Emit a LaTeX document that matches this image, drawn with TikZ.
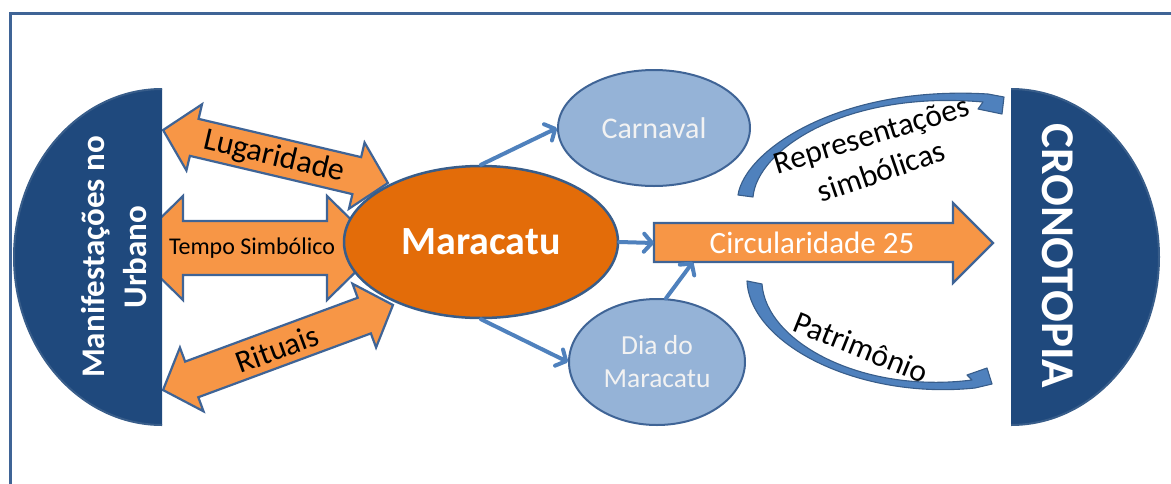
\documentclass[tikz,border=0pt]{standalone}
\usepackage{fontspec}
\setmainfont{Carlito}
\usetikzlibrary{arrows.meta,shapes.geometric}
\definecolor{dblue}{HTML}{1F497D}
\definecolor{bord}{HTML}{385D8A}
\definecolor{orng}{HTML}{F79646}
\definecolor{dorng}{HTML}{E36C09}
\definecolor{lblue}{HTML}{95B3D7}
\definecolor{mblue}{HTML}{4F81BD}
\definecolor{framec}{HTML}{3F6496}
\begin{document}
\begin{tikzpicture}[x=1pt,y=-1pt,
  dblarr/.style={fill=orng, draw=framec, line width=2.2pt, line join=miter},
  halfdisc/.style={ellipse, fill=dblue, draw=bord, line width=2pt, inner sep=0pt, minimum width=296, minimum height=336},
  bubble/.style={ellipse, fill=lblue, draw=framec, line width=2pt, inner sep=0pt, text=white!95!black, align=center},
  thinarr/.style={draw=mblue, line width=4pt, line cap=round, -{Straight Barb[length=8pt,width=18pt,line cap=round,line join=round]}},
  curvarr/.style={fill=mblue, draw=bord, line width=1.1pt, line join=round},
  lbl/.style={text=black, inner sep=0pt, font=\fontsize{31.5}{36}\selectfont},
  whitebold/.style={text=white, inner sep=0pt, font=\bfseries, align=center}
]
\useasboundingbox (0,0) rectangle (1171,483);
% frame
\draw[framec, line width=3pt] (10,500) -- (10,13) -- (1190,13);

% double arrows
\begin{scope}[shift={(255,248)}]
\draw[dblarr] (-125,0) -- (-72,-52) -- (-72,-27) -- (72,-27) -- (72,-52) -- (125,0)
  -- (72,52) -- (72,27) -- (-72,27) -- (-72,52) -- cycle;
\end{scope}
\begin{scope}[shift={(275.5,156.5)}, rotate=-13.25]
\draw[dblarr] (-115.5,0) -- (-83.5,-34) -- (-83.5,-19) -- (83.5,-19) -- (83.5,-34) -- (115.5,0)
  -- (83.5,34) -- (83.5,19) -- (-83.5,19) -- (-83.5,34) -- cycle;
\end{scope}
\begin{scope}[shift={(278,347.5)}, rotate=20.3]
\draw[dblarr] (-122.6,0) -- (-92,-34) -- (-92,-19) -- (92,-19) -- (92,-34) -- (122.6,0)
  -- (92,34) -- (92,19) -- (-92,19) -- (-92,34) -- cycle;
\end{scope}

% half discs
\begin{scope}
\clip (0,60) rectangle (162,450);
\node[halfdisc] (manif) at (162,257) {};
\end{scope}
\begin{scope}
\clip (1011,60) rectangle (1171,450);
\node[halfdisc] (crono) at (1011,257) {};
\end{scope}

% central ellipse
\node[ellipse, fill=dorng, draw=bord, line width=2.5pt, inner sep=0pt, minimum width=274, minimum height=152,
  text=white, font=\bfseries\fontsize{40}{46}\selectfont] (mar) at (481,242) {Maracatu};

% bubbles
\node[bubble, minimum width=192, minimum height=116, font=\fontsize{30}{36}\selectfont] (carn) at (654,128) {Carnaval};
\node[bubble, minimum width=176, minimum height=126, font=\fontsize{27.5}{33}\selectfont] (dia) at (657,362) {Dia do\\Maracatu};

% Circularidade arrow
\draw[fill=orng, draw=framec, line width=2.2pt, line join=miter]
  (654,223) -- (953,223) -- (953,203) -- (993,243) -- (953,283) -- (953,262) -- (654,262) -- cycle;
\coordinate (circW) at (654,243);
\coordinate (circS) at (693,262);
\node[text=white, inner sep=0pt, font=\fontsize{31}{36}\selectfont] (circ) at (812,243) {Circularidade 25};

% thin arrows
\draw[thinarr] (mar.north) -- (carn.west);
\draw[thinarr] (mar.south) -- (dia.west);
\draw[thinarr] (mar.east) -- (circW);
\draw[thinarr] (dia.82) -- (circS);

% curved arrows
\draw[curvarr] (738,195) .. controls (745,150) and (840,85) .. (988,94) -- (1004,97) -- (1002,114) -- (978,109) -- (983,102)
  .. controls (845,90) and (757,150) .. (753,197) -- cycle;
\draw[curvarr] (747,281) .. controls (750,345) and (860,400) .. (975,388) -- (992,384) -- (987,368) -- (967,375) -- (972,380)
  .. controls (862,394) and (766,342) .. (762,284) -- cycle;

% labels
\node[lbl, rotate=-13.25, font=\fontsize{32}{36}\selectfont] (lug) at (274,157) {Lugaridade};
\node[lbl, font=\fontsize{24}{28}\selectfont] (tempo) at (252,248) {Tempo Simbólico};
\node[lbl, rotate=20.3] (rit) at (277,349) {Rituais};
\node[lbl, rotate=17] (repr) at (872,137) {Representações};
\node[lbl, rotate=19] (simb) at (881,171) {simbólicas};
\node[lbl, rotate=-22] (patr) at (861,347) {Patrimônio};

\node[whitebold, rotate=90, font=\bfseries\fontsize{33}{42}\selectfont] (manifT) at (114,257) {Manifestações no\\Urbano};
\node[whitebold, rotate=-90, font=\bfseries\fontsize{47}{52}\selectfont] (cronoT) at (1058,256) {CRONOTOPIA};
\end{tikzpicture}
\end{document}
